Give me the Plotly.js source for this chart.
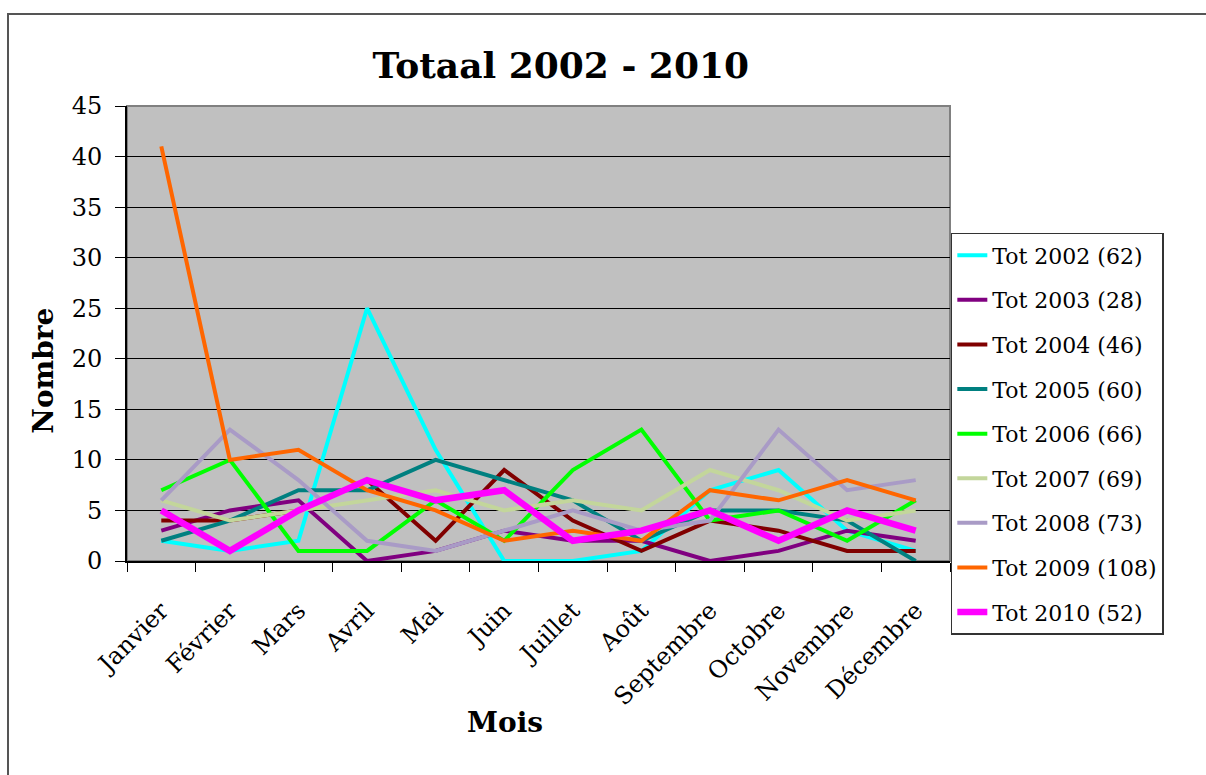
<!DOCTYPE html>
<html>
<head>
<meta charset="utf-8">
<script src="https://cdn.plot.ly/plotly-3.0.1.min.js"></script>
<style>
  html, body { margin: 0; padding: 0; background: #fff; overflow: hidden; }
  #graph { position: absolute; left: 0; top: 0; width: 1206px; height: 775px; }
  #frame { position: absolute; left: 7px; top: 13px; width: 1300px; height: 900px;
           border: 2px solid #555; pointer-events: none; }
</style>
</head>
<body>
<div id="graph"></div>
<div id="frame"></div>
<script>
// months on the x axis
var mois = ['Janvier', 'Février', 'Mars', 'Avril', 'Mai', 'Juin', 'Juillet',
            'Août', 'Septembre', 'Octobre', 'Novembre', 'Décembre'];

// monthly counts (totals match the legend)
var tot2002 = [2, 1, 2, 25, 11, 0, 0, 1, 7, 9, 3, 1];
var tot2003 = [3, 5, 6, 0, 1, 3, 2, 2, 0, 1, 3, 2];
var tot2004 = [4, 4, 5, 8, 2, 9, 4, 1, 4, 3, 1, 1];
var tot2005 = [2, 4, 7, 7, 10, 8, 6, 2, 5, 5, 4, 0];
var tot2006 = [7, 10, 1, 1, 6, 2, 9, 13, 4, 5, 2, 6];
var tot2007 = [6, 4, 5, 6, 7, 5, 6, 5, 9, 7, 4, 5];
var tot2008 = [6, 13, 8, 2, 1, 3, 5, 3, 4, 13, 7, 8];
var tot2009 = [41, 10, 11, 7, 5, 2, 3, 2, 7, 6, 8, 6];
var tot2010 = [5, 1, 5, 8, 6, 7, 2, 3, 5, 2, 5, 3];

var noms = ['Tot 2002 (62)', 'Tot 2003 (28)', 'Tot 2004 (46)', 'Tot 2005 (60)',
            'Tot 2006 (66)', 'Tot 2007 (69)', 'Tot 2008 (73)', 'Tot 2009 (108)',
            'Tot 2010 (52)'];

var series = [tot2002, tot2003, tot2004, tot2005, tot2006, tot2007, tot2008, tot2009, tot2010];
var couleurs = ['#00FFFF', '#800080', '#800000', '#008080', '#00FF00',
                '#C3D69B', '#A99BC6', '#FF6600', '#FF00FF'];
var epaisseurs = [4, 4, 4, 4, 4, 4, 4, 4, 6.5];

var police = 'DejaVu Serif, Liberation Serif, serif';

var traces = [];
for (var i = 0; i < series.length; i++) {
  traces.push({
    x: mois,
    y: series[i],
    name: noms[i],
    legendgroup: 'g' + i,
    type: 'scatter',
    mode: 'lines',
    line: { color: couleurs[i], width: epaisseurs[i] },
    hoverinfo: 'none'
  });
}

var layout = {
  width: 1206,
  height: 775,
  margin: { l: 127, r: 256, t: 106, b: 214 },
  paper_bgcolor: '#ffffff',
  plot_bgcolor: '#C0C0C0',
  font: { family: police, color: '#000' },
  title: {
    text: '<b>Totaal 2002 - 2010</b>',
    font: { family: police, size: 36, color: '#000' },
    xref: 'container', x: 0.465, xanchor: 'center',
    yref: 'container', y: 0.915, yanchor: 'middle'
  },
  xaxis: {
    type: 'category',
    range: [-0.5, 11.5],
    tickangle: -45,
    tickfont: { family: police, size: 24 },
    ticks: 'outside',
    tickson: 'boundaries',
    ticklen: 9,
    tickcolor: '#000',
    ticklabelstandoff: 24,
    showline: true,
    linecolor: '#000',
    linewidth: 2,
    showgrid: false
  },
  yaxis: {
    range: [0, 45],
    dtick: 5,
    tickfont: { family: police, size: 24 },
    ticks: 'outside',
    ticklen: 10,
    tickcolor: '#000',
    ticklabelstandoff: 8,
    showline: true,
    linecolor: '#000',
    linewidth: 2,
    gridcolor: '#000',
    gridwidth: 1,
    zeroline: false
  },
  shapes: [{
    type: 'rect', xref: 'paper', yref: 'paper',
    x0: 0, x1: 1, y0: 0, y1: 1,
    line: { color: '#808080', width: 2 },
    layer: 'below'
  }],
  annotations: [{
    text: '<b>Mois</b>',
    xref: 'paper', yref: 'paper',
    x: 0.459, y: -0.354,
    xanchor: 'center', yanchor: 'middle',
    showarrow: false,
    font: { family: police, size: 28, color: '#000' }
  }, {
    text: '<b>Nombre</b>',
    xref: 'paper', yref: 'paper',
    x: -0.101, y: 0.418,
    xanchor: 'center', yanchor: 'middle',
    textangle: -90,
    showarrow: false,
    font: { family: police, size: 28, color: '#000' }
  }],
  showlegend: true,
  legend: {
    x: 1.001, xanchor: 'left',
    y: 0.721, yanchor: 'top',
    bgcolor: '#ffffff',
    bordercolor: '#333',
    borderwidth: 1.5,
    font: { family: police, size: 22, color: '#000' },
    tracegroupgap: 13,
    traceorder: 'grouped'
  }
};

Plotly.newPlot('graph', traces, layout, { displayModeBar: false, staticPlot: true });
</script>
</body>
</html>
